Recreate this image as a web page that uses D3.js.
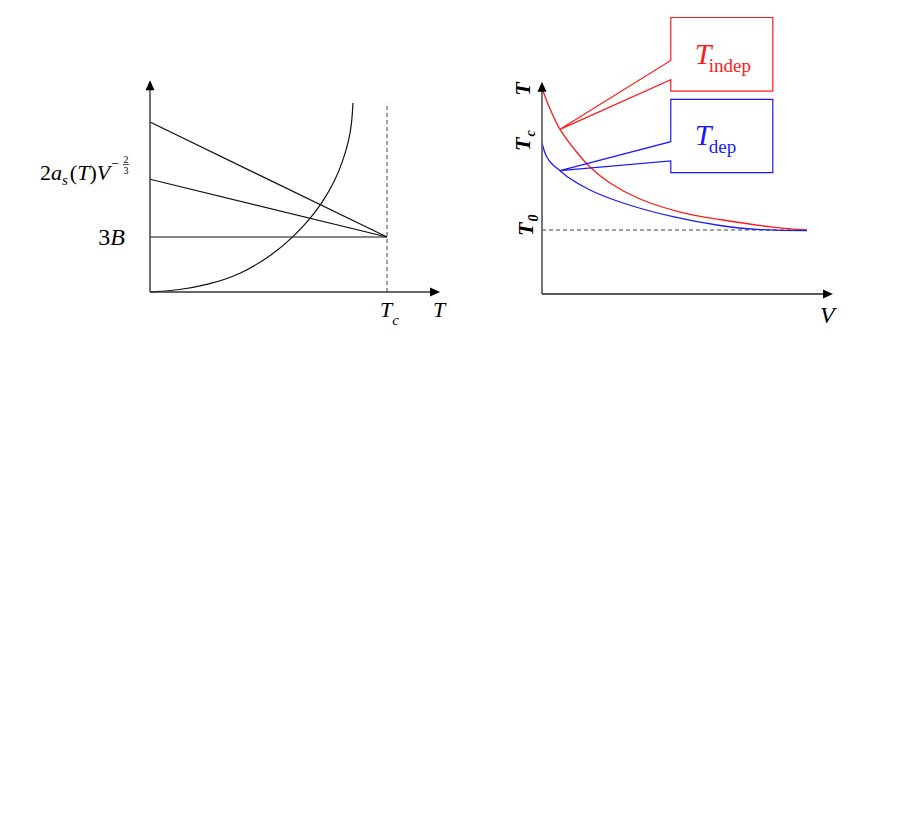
<!DOCTYPE html>
<html>
<head>
<meta charset="utf-8">
<script src="https://cdn.jsdelivr.net/npm/d3@7"></script>
<style>
body { margin: 0; background: #fff; }
text { font-family: "Liberation Serif", "Times New Roman", serif; }
</style>
</head>
<body>
<svg id="chart" width="905" height="817"></svg>
<script>
// ---- left panel: 3B and 2a_s(T)V^-2/3 against T ----
const TC = 1
const B3 = 1
const surfStart = [3.09, 2.05, 1.0]   // value at T=0, every line ends at (Tc, 3B)
const curveT = [0, 0.1266, 0.2392, 0.3797, 0.519, 0.6046, 0.675, 0.7245, 0.7806, 0.8156, 0.8397, 0.851, 0.8565]
const curveY = [0, 0.0364, 0.1273, 0.3091, 0.6818, 1.0, 1.327, 1.609, 2.018, 2.40, 2.764, 3.055, 3.436]
const L_XMAX = 1.224, L_YMAX = 3.85, L_DASH_TOP = 3.44

// ---- right panel: T against V ----
const indepV = [0, 0.0226, 0.0679, 0.1245, 0.181, 0.2566, 0.3698, 0.5208, 0.683, 0.872, 1.0]
const indepT = [3.214, 2.969, 2.573, 2.25, 1.984, 1.734, 1.484, 1.281, 1.156, 1.045, 1.0]
const depV = [0, 0.0075, 0.0177, 0.0377, 0.0679, 0.0943, 0.181, 0.3057, 0.494, 0.683, 0.811, 1.0]
const depT = [2.364, 2.25, 2.145, 2.031, 1.927, 1.836, 1.625, 1.422, 1.208, 1.0625, 1.011, 0.99]
const PTR_INDEP = 2, PTR_DEP = 4   // callout tips sit on these curve points
const T0 = 1
const R_XMAX = 1.098, R_YMAX = 3.317
// callout boxes (data units)
const boxV = [0.486, 0.871]
const indepBox = [4.32, 3.17], indepGap = [3.65, 3.35]
const depBox = [3.04, 1.895], depGap = [2.38, 2.08]

const RED = "#ff1a1a", BLUE = "#1a1aff"
const svg = d3.select("#chart")

function arrowUp(g, x, y, col) {
    g.append("path").attr("d", `M${x},${y}L${x - 4.5},${y + 10}L${x + 4.5},${y + 10}Z`).attr("fill", col)
}
function arrowRight(g, x, y, col) {
    g.append("path").attr("d", `M${x},${y}L${x - 10},${y - 4.5}L${x - 10},${y + 4.5}Z`).attr("fill", col)
}

// ================= left =================
var xL = d3.scaleLinear().domain([0, 1]).range([150, 387])
var yL = d3.scaleLinear().domain([0, 1]).range([292, 237])
var left = svg.append("g")

left.append("line")
    .attr("x1", xL(TC)).attr("x2", xL(TC))
    .attr("y1", yL(0)).attr("y2", yL(L_DASH_TOP))
    .attr("stroke", "#555").attr("stroke-width", 1.1).attr("stroke-dasharray", "4,3")

left.selectAll("line.surf").data(surfStart).enter().append("line")
    .attr("class", "surf")
    .attr("x1", xL(0)).attr("y1", d => yL(d))
    .attr("x2", xL(TC)).attr("y2", yL(B3))
    .attr("stroke", "#111").attr("stroke-width", 1.2)

var curvePts = curveT.map((t, i) => [t, curveY[i]])
left.append("path")
    .attr("d", d3.line().x(d => xL(d[0])).y(d => yL(d[1])).curve(d3.curveBasis)(curvePts))
    .attr("fill", "none").attr("stroke", "#111").attr("stroke-width", 1.2)

// axes
left.append("line").attr("x1", xL(0)).attr("x2", xL(0)).attr("y1", yL(0)).attr("y2", yL(L_YMAX) + 8)
    .attr("stroke", "#333").attr("stroke-width", 1.4)
left.append("line").attr("x1", xL(0)).attr("x2", xL(L_XMAX) - 8).attr("y1", yL(0)).attr("y2", yL(0))
    .attr("stroke", "#333").attr("stroke-width", 1.4)
arrowUp(left, xL(0), yL(L_YMAX), "#000")
arrowRight(left, xL(L_XMAX), yL(0), "#000")

// labels
var t3b = left.append("text").attr("x", xL(0) - 25).attr("y", yL(B3) + 8)
    .attr("text-anchor", "end").attr("font-size", 24)
t3b.append("tspan").text("3")
t3b.append("tspan").attr("font-style", "italic").text("B")

var tsurf = left.append("text").attr("x", 40).attr("y", 180).attr("font-size", 22)
tsurf.append("tspan").text("2")
tsurf.append("tspan").attr("font-style", "italic").text("a")
tsurf.append("tspan").attr("font-style", "italic").attr("font-size", 15).attr("dy", 5).text("s")
tsurf.append("tspan").attr("dy", -5).attr("dx", 2).text("(")
tsurf.append("tspan").attr("font-style", "italic").text("T")
tsurf.append("tspan").text(")")
tsurf.append("tspan").attr("font-style", "italic").text("V")
tsurf.append("tspan").attr("font-size", 14).attr("dy", -12).attr("dx", 1).text("\u2212")
left.append("text").attr("x", 126).attr("y", 163).attr("text-anchor", "middle").attr("font-size", 10).text("2")
left.append("text").attr("x", 126).attr("y", 173.5).attr("text-anchor", "middle").attr("font-size", 10).text("3")
left.append("line").attr("x1", 123).attr("x2", 129).attr("y1", 164.5).attr("y2", 164.5)
    .attr("stroke", "#000").attr("stroke-width", 0.7)

var ttc = left.append("text").attr("x", xL(TC) - 7).attr("y", 317).attr("font-size", 22)
ttc.append("tspan").attr("font-style", "italic").text("T")
ttc.append("tspan").attr("font-style", "italic").attr("font-size", 15).attr("dy", 8).text("c")
left.append("text").attr("x", 433).attr("y", 317).attr("font-size", 22).attr("font-style", "italic").text("T")

// ================= right =================
var xR = d3.scaleLinear().domain([0, 1]).range([542, 807])
var yR = d3.scaleLinear().domain([0, 1]).range([294, 230])
var right = svg.append("g")

right.append("line")
    .attr("x1", xR(0)).attr("x2", xR(1))
    .attr("y1", yR(T0)).attr("y2", yR(T0))
    .attr("stroke", "#444").attr("stroke-width", 1.1).attr("stroke-dasharray", "4,3")

var lineR = d3.line().x(d => xR(d[0])).y(d => yR(d[1])).curve(d3.curveCatmullRom.alpha(0.5))
var series = [
    { v: indepV, t: indepT, col: RED },
    { v: depV, t: depT, col: BLUE }
]
right.selectAll("path.curve").data(series).enter().append("path")
    .attr("class", "curve")
    .attr("d", s => lineR(s.v.map((v, i) => [v, s.t[i]])))
    .attr("fill", "none").attr("stroke", s => s.col).attr("stroke-width", 1.3)

// callouts
var callouts = [
    { box: indepBox, gap: indepGap, ptr: [indepV[PTR_INDEP], indepT[PTR_INDEP]], col: RED, sub: "indep" },
    { box: depBox, gap: depGap, ptr: [depV[PTR_DEP], depT[PTR_DEP]], col: BLUE, sub: "dep" }
]
var lineP = d3.line().x(d => xR(d[0])).y(d => yR(d[1]))
callouts.forEach(c => {
    var pts = [
        [boxV[0], c.box[0]], [boxV[1], c.box[0]], [boxV[1], c.box[1]], [boxV[0], c.box[1]],
        [boxV[0], c.gap[1]], c.ptr, [boxV[0], c.gap[0]]
    ]
    right.append("path").attr("d", lineP(pts) + "Z")
        .attr("fill", "none").attr("stroke", c.col).attr("stroke-width", 1.2)
    var bx = xR(boxV[0]), by = yR(c.box[0])
    right.append("text").attr("x", bx + 24).attr("y", by + 46)
        .attr("font-size", 30).attr("font-style", "italic").attr("fill", c.col).text("T")
    right.append("text").attr("x", bx + 38).attr("y", by + 54)
        .attr("font-size", 19).attr("fill", c.col).text(c.sub)
})

// axes
right.append("line").attr("x1", xR(0)).attr("x2", xR(0)).attr("y1", yR(0)).attr("y2", yR(R_YMAX) + 8)
    .attr("stroke", "#666").attr("stroke-width", 1.8)
right.append("line").attr("x1", xR(0)).attr("x2", xR(R_XMAX) - 8).attr("y1", yR(0)).attr("y2", yR(0))
    .attr("stroke", "#222").attr("stroke-width", 1.4)
arrowUp(right, xR(0), yR(R_YMAX), "#000")
arrowRight(right, xR(R_XMAX), yR(0), "#000")

// rotated axis labels
function rotLabel(x, y, anchor, main, sub) {
    var t = right.append("text").attr("transform", `translate(${x},${y}) rotate(-90)`)
        .attr("text-anchor", anchor).attr("font-size", 22).attr("font-style", "italic").attr("font-weight", "bold")
    t.append("tspan").text(main)
    if (sub) t.append("tspan").attr("font-size", 14).attr("dy", 5).attr("dx", 1).text(sub)
}
rotLabel(530, 89, "middle", "T")
rotLabel(530, 151, "start", "T", "c")
rotLabel(533, 236, "start", "T", "0")

right.append("text").attr("x", 820).attr("y", 323).attr("font-size", 24).attr("font-style", "italic").text("V")
</script>
</body>
</html>
